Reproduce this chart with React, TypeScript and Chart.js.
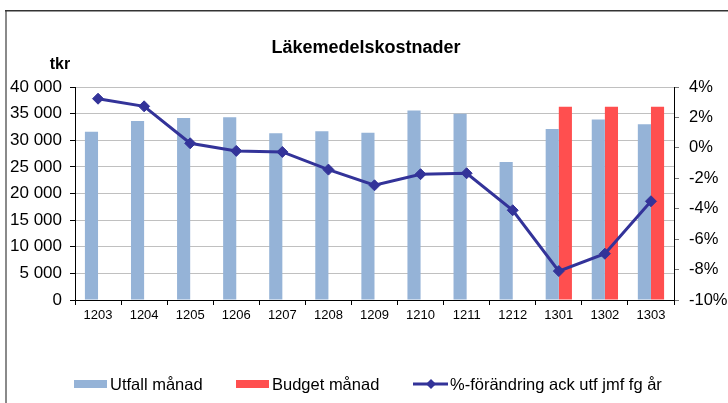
import React, { useEffect, useRef } from "react";
import { Chart, registerables } from "chart.js";

Chart.register(...registerables);

const categories = ["1203", "1204", "1205", "1206", "1207", "1208", "1209", "1210", "1211", "1212", "1301", "1302", "1303"];
const utfallManad = [31600, 33600, 34200, 34300, 31300, 31700, 31400, 35600, 35000, 25900, 32100, 33900, 33000];
const budgetManad = [null, null, null, null, null, null, null, null, null, null, 36300, 36300, 36300];
const forandring = [3.23, 2.73, 0.3, -0.2, -0.27, -1.43, -2.46, -1.73, -1.67, -4.1, -8.1, -6.96, -3.51];

const titleText = "Läkemedelskostnader";
const unitText = "tkr";
const seriesNames = ["Utfall månad", "Budget månad", "%-förändring ack utf jmf fg år"];

const BLUE = "#95B3D7";
const RED = "#FF4F4F";
const NAVY = "#333399";
const FONT = "'Liberation Sans', Arial, sans-serif";

function fmtThousands(v: number): string {
  return String(Math.round(v)).replace(/\B(?=(\d{3})+(?!\d))/g, " ");
}

const decorPlugin = {
  id: "decor",
  beforeDraw(chart: any) {
    const ctx = chart.ctx;
    ctx.save();
    ctx.fillStyle = "#ffffff";
    ctx.fillRect(0, 0, chart.width, chart.height);
    ctx.restore();
  },
  afterDraw(chart: any) {
    const ctx = chart.ctx;
    ctx.save();
    // frame
    ctx.fillStyle = "#8a8a8a";
    ctx.fillRect(5, 11, 2, chart.height - 11);
    ctx.fillStyle = "#333333";
    ctx.fillRect(5, 10, chart.width - 5, 1.5);
    // title
    ctx.fillStyle = "#000";
    ctx.textAlign = "center";
    ctx.textBaseline = "alphabetic";
    ctx.font = `bold 18px ${FONT}`;
    ctx.fillText(titleText, 366, 53);
    ctx.font = `bold 16px ${FONT}`;
    ctx.fillText(unitText, 60, 69);
    // legend
    ctx.font = `16.5px ${FONT}`;
    ctx.textAlign = "left";
    const ly = 384;
    const textBase = 390;
    ctx.fillStyle = BLUE;
    ctx.fillRect(74, ly - 4, 33, 8);
    ctx.fillStyle = "#000";
    ctx.fillText(seriesNames[0], 110, textBase);
    ctx.fillStyle = RED;
    ctx.fillRect(236, ly - 4, 33, 8);
    ctx.fillStyle = "#000";
    ctx.fillText(seriesNames[1], 272, textBase);
    ctx.strokeStyle = NAVY;
    ctx.lineWidth = 3;
    ctx.beginPath();
    ctx.moveTo(413, ly);
    ctx.lineTo(448, ly);
    ctx.stroke();
    ctx.fillStyle = NAVY;
    ctx.beginPath();
    ctx.moveTo(431, ly - 5);
    ctx.lineTo(436, ly);
    ctx.lineTo(431, ly + 5);
    ctx.lineTo(426, ly);
    ctx.closePath();
    ctx.fill();
    ctx.fillStyle = "#000";
    ctx.fillText(seriesNames[2], 450, textBase);
    ctx.restore();
  },
};

export default function App() {
  const canvasRef = useRef<HTMLCanvasElement | null>(null);

  useEffect(() => {
    if (!canvasRef.current) return;
    const chart = new Chart(canvasRef.current, {
      type: "bar",
      data: {
        labels: categories,
        datasets: [
          {
            type: "line",
            label: seriesNames[2],
            data: forandring,
            yAxisID: "y1",
            borderColor: NAVY,
            backgroundColor: NAVY,
            borderWidth: 3,
            pointStyle: "rectRot",
            pointRadius: 5.5,
            pointBackgroundColor: NAVY,
            pointBorderColor: NAVY,
            pointBorderWidth: 1,
            tension: 0,
            order: 0,
          } as any,
          {
            type: "bar",
            label: seriesNames[0],
            data: utfallManad,
            yAxisID: "y",
            backgroundColor: BLUE,
            categoryPercentage: 0.57,
            barPercentage: 1,
            order: 1,
          },
          {
            type: "bar",
            label: seriesNames[1],
            data: budgetManad as any,
            yAxisID: "y",
            backgroundColor: RED,
            categoryPercentage: 0.57,
            barPercentage: 1,
            order: 1,
          },
        ],
      },
      options: {
        animation: false,
        responsive: false,
        devicePixelRatio: 1,
        layout: { padding: { top: 87, bottom: 0, left: 0, right: 0 } },
        plugins: {
          legend: { display: false },
          title: { display: false },
          tooltip: { enabled: false },
        },
        scales: {
          x: {
            grid: { drawOnChartArea: false, drawTicks: true, tickLength: 5, color: "#000", offset: true },
            border: { color: "#000", width: 1 },
            ticks: { color: "#000", font: { family: FONT, size: 13 }, padding: 3, maxRotation: 0, autoSkip: false },
            afterFit: (s: any) => { s.height = 103; },
          },
          y: {
            position: "left",
            min: 0,
            max: 40000,
            ticks: {
              stepSize: 5000,
              color: "#000",
              font: { family: FONT, size: 17 },
              padding: 8,
              callback: (v: any) => fmtThousands(Number(v)),
            },
            grid: { color: "#c0c0c0", tickColor: "#000", tickLength: 5, lineWidth: 1 },
            border: { color: "#000", width: 1 },
            afterFit: (s: any) => { s.width = 75; },
          },
          y1: {
            position: "right",
            min: -10,
            max: 4,
            ticks: {
              stepSize: 2,
              color: "#000",
              font: { family: FONT, size: 16.5 },
              padding: 10,
              callback: (v: any) => `${v}%`,
            },
            grid: { drawOnChartArea: false, tickColor: "#777", tickLength: 5 },
            border: { color: "#000", width: 1 },
            afterFit: (s: any) => { s.width = 54; },
          },
        },
      },
      plugins: [decorPlugin],
    });
    return () => chart.destroy();
  }, []);

  return (
    <div style={{ position: "absolute", left: 0, top: 0, width: 728, height: 403 }}>
      <canvas ref={canvasRef} width={728} height={403} style={{ width: 728, height: 403, display: "block" }} />
    </div>
  );
}
